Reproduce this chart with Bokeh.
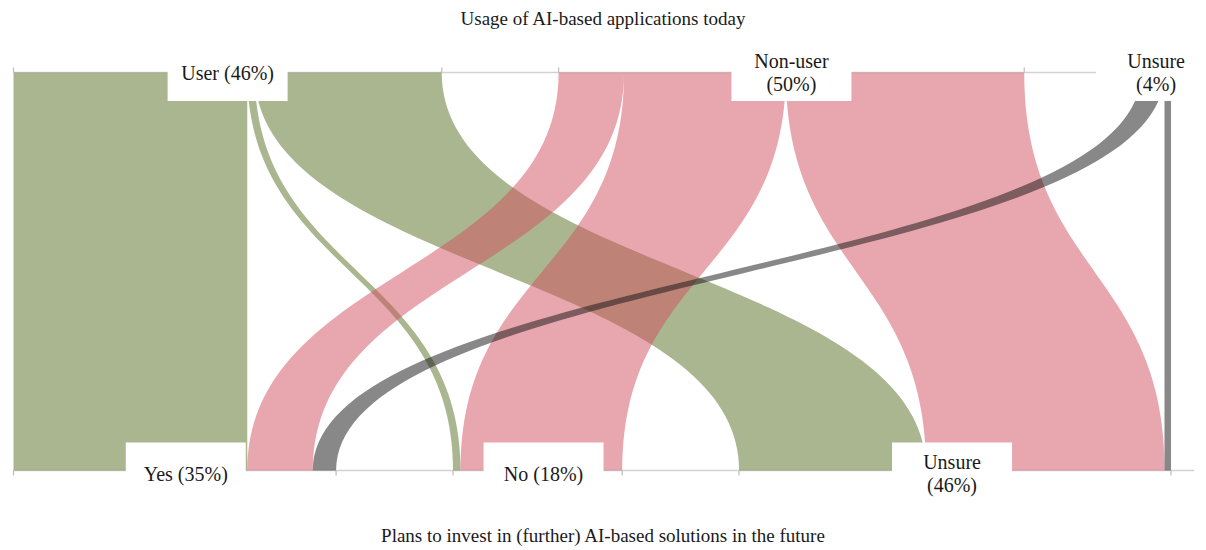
import numpy as np
from bokeh.plotting import figure
from bokeh.models import Range1d
from bokeh.core.properties import value
from bokeh.embed import file_html
from bokeh.resources import INLINE

# ---------------- data ----------------
title_top = "Usage of AI-based applications today"
title_bottom = "Plans to invest in (further) AI-based solutions in the future"
top_labels = ["User (46%)", "Non-user\n(50%)", "Unsure\n(4%)"]
bottom_labels = ["Yes (35%)", "No (18%)", "Unsure\n(46%)"]

# share of respondents (%) flowing from usage today -> plans (Yes, No, Unsure)
user_flows = [25.0, 0.8, 20.0]
nonuser_flows = [7.0, 17.3, 25.5]
unsure_flows = [2.5, 0.0, 0.7]

flow_colors = ["#556d21", "#d14d5d", "#111111"]

# ---------------- layout ----------------
GAP = 12.5          # gap between categories (in % units)
PX = 9.35           # pixels per % unit
YPX = 398.0         # pixels between the two axes
W, H = 1206, 550
LEFT, TOP = 13, 72  # pixel position of the first category start / top axis

flows = np.array([user_flows, nonuser_flows, unsure_flows])
top_tot = flows.sum(axis=1)
bot_tot = flows.sum(axis=0)
top_start = np.concatenate([[0], np.cumsum(top_tot)[:-1]]) + GAP * np.arange(3)
bot_start = np.concatenate([[0], np.cumsum(bot_tot)[:-1]]) + GAP * np.arange(3)
extent = max(top_start[-1] + top_tot[-1], bot_start[-1] + bot_tot[-1])

x0 = -LEFT / PX
x1 = x0 + W / PX
y_top = 1 + TOP / YPX
y_bot = y_top - H / YPX

p = figure(width=W, height=H, output_backend="svg", toolbar_location=None,
           x_range=Range1d(x0, x1), y_range=Range1d(y_bot, y_top),
           min_border=0, x_axis_location=None, y_axis_location=None,
           background_fill_color="white", border_fill_color="white")
p.outline_line_color = None
p.grid.visible = False

# axis lines
p.segment(x0=[0, 0], y0=[1, 0], x1=[extent + 2.0, extent + 2.5], y1=[1, 0],
          line_color="#d2d2d2", line_width=1.5)

# ribbons (cubic Bezier edges with vertical tangents)
t = np.linspace(0, 1, 80)
def edge(xa, xb):
    xs = (1 - t) ** 3 * xa + 3 * (1 - t) ** 2 * t * xa + 3 * (1 - t) * t ** 2 * xb + t ** 3 * xb
    ys = (1 - t) ** 3 * 1 + 3 * (1 - t) ** 2 * t * 0.5 + 3 * (1 - t) * t ** 2 * 0.5
    return xs, ys

top_pos = np.zeros((3, 3))
bot_pos = np.zeros((3, 3))
for i in range(3):
    acc = top_start[i]
    for j in range(3):
        top_pos[i, j] = acc
        acc += flows[i, j]
for j in range(3):
    acc = bot_start[j]
    for i in range(3):
        bot_pos[i, j] = acc
        acc += flows[i, j]

for i in range(3):
    xs_list, ys_list = [], []
    for j in range(3):
        v = flows[i, j]
        if v <= 0:
            continue
        a0, a1 = top_pos[i, j], top_pos[i, j] + v
        b0, b1 = bot_pos[i, j], bot_pos[i, j] + v
        lx, ly = edge(a0, b0)
        rx, ry = edge(a1, b1)
        xs_list.append(np.concatenate([lx, rx[::-1]]))
        ys_list.append(np.concatenate([ly, ry[::-1]]))
    p.patches(xs=xs_list, ys=ys_list, fill_color=flow_colors[i], fill_alpha=0.5,
              line_color=None)

# ticks at category boundaries
tick_h = 5 / YPX
tx = list(top_start) + list(top_start + top_tot)
bx = list(bot_start) + list(bot_start + bot_tot)
p.segment(x0=tx, x1=tx, y0=[1] * len(tx), y1=[1 + tick_h] * len(tx),
          line_color="#bdbdbd", line_width=1.2)
p.segment(x0=bx, x1=bx, y0=[0] * len(bx), y1=[-tick_h] * len(bx),
          line_color="#bdbdbd", line_width=1.2)

# label boxes
top_cx = top_start + top_tot / 2
bot_cx = bot_start + bot_tot / 2 + np.array([11, 6, -3]) / PX
p.rect(x=list(top_cx), y=[1 - 0.5 / YPX] * 3, width=120, height=56,
       width_units="screen", height_units="screen", fill_color="white", line_color=None)
p.rect(x=list(bot_cx), y=[-2 / YPX] * 3, width=120, height=60,
       width_units="screen", height_units="screen", fill_color="white", line_color=None)

font = value("Liberation Serif")
p.text(x=list(top_cx), y=[1] * 3, text=top_labels, text_align="center",
       text_baseline="middle", text_font=font, text_font_size="20px",
       text_color="#1a1a1a", text_line_height=1.08)
p.text(x=list(bot_cx), y=[-3 / YPX] * 3, text=bottom_labels, text_align="center",
       text_baseline="middle", text_font=font, text_font_size="20px",
       text_color="#1a1a1a", text_line_height=1.08)

# titles
cx = (x0 + x1) / 2
p.text(x=[cx], y=[1 + 54 / YPX], text=[title_top], text_align="center",
       text_baseline="middle", text_font=font, text_font_size="19px", text_color="#1a1a1a")
p.text(x=[cx], y=[-65 / YPX], text=[title_bottom], text_align="center",
       text_baseline="middle", text_font=font, text_font_size="19px", text_color="#1a1a1a")

open("out.html", "w").write(file_html(p, INLINE))
